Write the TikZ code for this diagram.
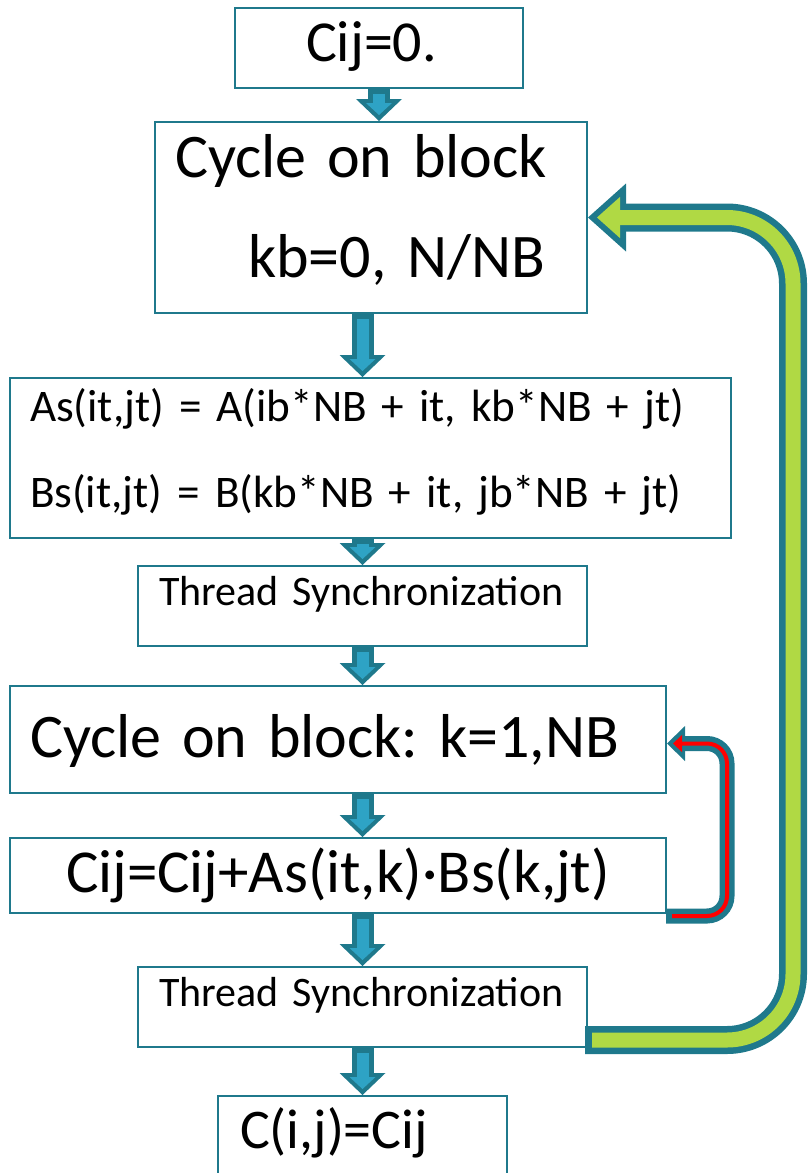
\documentclass[tikz,border=0pt]{standalone}
\usepackage{fontspec}
\setmainfont{Carlito}
\usetikzlibrary{arrows.meta,calc}
\frenchspacing
\definecolor{verdeazul}{RGB}{31,121,140}
\definecolor{cian}{RGB}{46,163,197}
\definecolor{lima}{RGB}{176,217,68}
\definecolor{rojo}{RGB}{255,0,0}
\tikzset{
  caja/.style={draw=verdeazul, line width=2pt, inner sep=0pt, align=left},
  sinc/.style={caja, minimum width=449pt, minimum height=80pt, text width=407pt, text height=39pt, text depth=41pt, font=\fontsize{42}{50}\selectfont},
  baja/.style={draw=verdeazul, line width=22pt, -{Triangle[width=46pt,length=22pt,line width=0pt]},
    postaction={draw=cian, line width=12pt, shorten <=5pt, shorten >=6pt, -{Triangle[width=26pt,length=12pt,line width=0pt]}}},
}
\begin{document}
\begin{tikzpicture}[x=1pt,y=-1pt]
  \useasboundingbox (0,0) rectangle (807,1173);
  \node[caja, minimum width=288pt, minimum height=80pt, text width=146pt, text height=53pt, text depth=27pt, font=\fontsize{58}{70}\selectfont] (ini) at (379,48) {Cij=0.};
  \node[caja, minimum width=432pt, minimum height=191pt, text width=392pt, text height=55pt, text depth=136pt, font=\fontsize{62}{100}\selectfont] (ciclo) at (371,217.5) {Cycle on block\\\hspace*{73pt}kb=0, N/NB};
  \node[caja, minimum width=721pt, minimum height=160pt, text width=681pt, text height=43pt, text depth=117pt, font=\fontsize{45.2}{86}\selectfont] (carga) at (370.5,458) {As(it,jt) = A(ib*NB + it, kb*NB + jt)\\Bs(it,jt) = B(kb*NB + it, jb*NB + jt)};
  \node[sinc] (sinc1) at (362.5,606) {Thread Synchronization};
  \node[caja, minimum width=656pt, minimum height=107pt, text width=616pt, text height=71pt, text depth=36pt, font=\fontsize{62}{76}\selectfont] (cyck) at (338,739.5) {Cycle on block: k=1,NB};
  \node[caja, align=center, minimum width=656pt, minimum height=75pt, text width=616pt, text height=54pt, text depth=21pt, font=\fontsize{61}{70}\selectfont] (cij) at (338,875.5) {Cij=Cij+As(it,k)·Bs(k,jt)};
  \node[sinc] (sinc2) at (362.5,1007) {Thread Synchronization};
  \node[caja, minimum width=289pt, minimum height=94pt, text width=245pt, text height=52pt, text depth=42pt, font=\fontsize{56}{68}\selectfont] (fin) at (362.5,1143) {C(i,j)=Cij};
  % flechas hacia abajo
  \draw[baja] (ini.south) -- (ini.south |- ciclo.north);
  \draw[baja] (ciclo.south -| sinc1) -- (carga.north -| sinc1);
  \draw[baja] (carga.south -| sinc1) -- (sinc1.north);
  \draw[baja] (sinc1.south) -- (cyck.north -| sinc1);
  \draw[baja] (cyck.south -| sinc1) -- (cij.north -| sinc1);
  \draw[baja] (cij.south -| sinc1) -- (sinc2.north);
  \draw[baja] (sinc2.south) -- (fin.north);
  % lazo externo (kb)
  \draw[verdeazul, line width=28pt, rounded corners=66pt] ([xshift=-3pt,yshift=8pt]sinc2.south east) -| ($(ciclo.east)+(205,0)$) -- ($(ciclo.east)+(36,0)$);
  \fill[verdeazul] (ciclo.east) -- ++(38,-34) -- ++(0,68) -- cycle;
  \draw[lima, line width=15pt, rounded corners=66pt] ([xshift=4pt,yshift=8pt]sinc2.south east) -| ($(ciclo.east)+(205,0)$) -- ($(ciclo.east)+(30,0)$);
  \fill[lima] ($(ciclo.east)+(9,0)$) -- ++(23,-20.6) -- ++(0,41.2) -- cycle;
  % lazo interno (k)
  \draw[verdeazul, line width=15pt, rounded corners=20pt] ([xshift=-1pt,yshift=-2pt]cij.south east) -| ($(cyck.east)+(60,4)$) -- ($(cyck.east)+(17,4)$);
  \fill[verdeazul] ($(cyck.east)+(0,4)$) -- ++(18,-17.5) -- ++(0,35) -- cycle;
  \draw[rojo, line width=4pt, rounded corners=20pt] ([xshift=5pt,yshift=-2pt]cij.south east) -| ($(cyck.east)+(60,4)$) -- ($(cyck.east)+(13,4)$);
  \fill[rojo] ($(cyck.east)+(6,4)$) -- ++(9,-8.5) -- ++(0,17) -- cycle;
\end{tikzpicture}
\end{document}
